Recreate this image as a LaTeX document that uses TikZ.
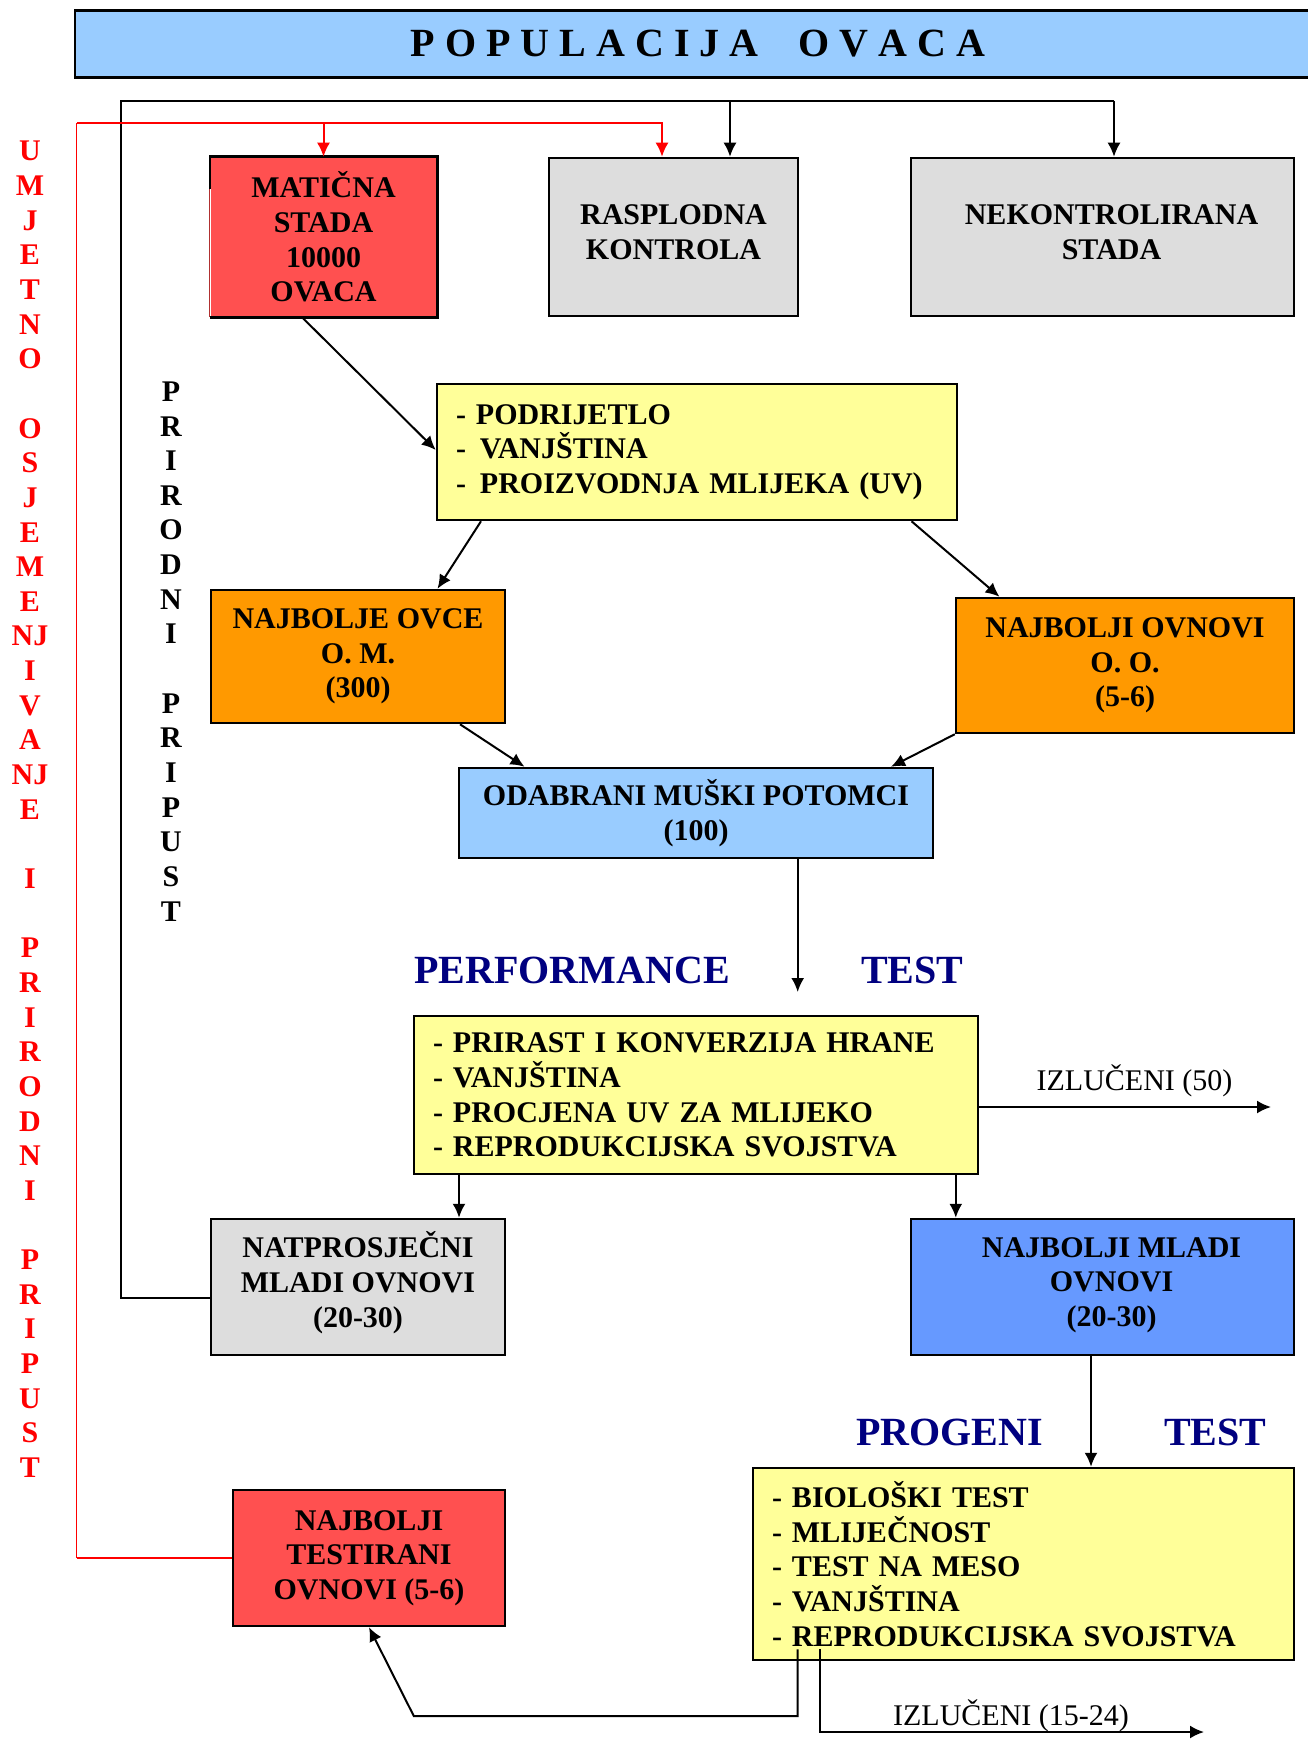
\documentclass[tikz,border=0pt]{standalone}
\usepackage{fontspec}
\setmainfont{Liberation Serif}
\usetikzlibrary{arrows.meta,calc}
\definecolor{titleblue}{HTML}{99CCFF}
\definecolor{boxred}{HTML}{FF5050}
\definecolor{boxgrey}{HTML}{DDDDDD}
\definecolor{boxyellow}{HTML}{FFFF99}
\definecolor{boxorange}{HTML}{FF9900}
\definecolor{boxblue}{HTML}{6699FF}
\definecolor{headnavy}{HTML}{000080}
\definecolor{edgered}{HTML}{B03030}
\begin{document}
\begin{tikzpicture}[x=1pt,y=-1pt,
  box/.style={draw=black, line width=2.5pt, inner sep=0pt, align=center,
    font=\bfseries\fontsize{30}{34.65}\selectfont},
  boxtext/.style={inner sep=0pt, align=center,
    font=\bfseries\fontsize{30}{34.65}\selectfont},
  listbox/.style={draw=black, line width=2.5pt, inner ysep=0pt, inner xsep=19pt,
    align=left, fill=boxyellow, font=\bfseries\fontsize{30}{34.65}\selectfont},
  conn/.style={line width=2pt, -{Latex[length=14pt,width=13pt]}},
  plain/.style={line width=2pt},
  redline/.style={red, line width=2pt},
  redarr/.style={red, line width=2pt, -{Latex[length=14pt,width=13pt]}},
  lbl/.style={inner sep=0pt, font=\fontsize{30}{34.65}\selectfont},
  head/.style={inner sep=0pt, text=headnavy, font=\bfseries\fontsize{40}{48}\selectfont},
  column/.style={inner sep=0pt, align=center, anchor=north,
    font=\bfseries\fontsize{30}{34.65}\selectfont}
]
\fill[white] (0,0) rectangle (1308,1739);
\useasboundingbox (0,0) rectangle (1308,1739);

% title
\node[box, fill=titleblue, minimum width=1246pt, minimum height=66.6pt,
  font=\bfseries\fontsize{40}{48}\selectfont] (title) at (698,44)
  {P O P U L A C I J A\hspace{40pt}O V A C A};

% top row
\node[box, draw=none, fill=boxred, minimum width=225pt, minimum height=158pt] (mat) at (323.5,237)
  {MATIČNA\\STADA\\10000\\OVACA};
\draw[edgered, line width=0.8pt] (mat.north west) -- (mat.south west);
\draw[line width=2.5pt] ($(mat.north west)+(0,32)$) -- (mat.north west) -- (mat.north east)
  -- (mat.south east) -- (mat.south west);
\node[box, fill=boxgrey, minimum width=249pt, minimum height=158pt] (ras) at (673.5,237) {};
\node[boxtext] (rasT) at (673.5,232.5) {RASPLODNA\\KONTROLA};
\node[box, fill=boxgrey, minimum width=383pt, minimum height=158pt] (nek) at (1102.5,237) {};
\node[boxtext] (nekT) at (1111.5,232.5) {NEKONTROLIRANA\\STADA};

% first criteria box
\node[listbox, text width=482pt, minimum height=136pt] (pod) at (697,452)
  {- PODRIJETLO\\- \hspace{4pt}VANJŠTINA\\- \hspace{4pt}PROIZVODNJA MLIJEKA (UV)};

\node[box, fill=boxorange, minimum width=294pt, minimum height=133pt] (ovce) at (358,656.5)
  {NAJBOLJE OVCE\\O. M.\\(300)};
\node[box, fill=boxorange, minimum width=338pt, minimum height=135pt] (ovn) at (1125,665.5)
  {NAJBOLJI OVNOVI\\O. O.\\(5-6)};

\node[box, fill=titleblue, minimum width=474pt, minimum height=90pt] (oda) at (696,813)
  {ODABRANI MUŠKI POTOMCI\\(100)};

% performance test
\node[head, anchor=base west] (perf) at (414,983) {PERFORMANCE};
\node[head, anchor=base west] (perftest) at (861,983) {TEST};

\node[listbox, text width=526pt, minimum height=158pt] (pri) at (696,1095)
  {- PRIRAST I KONVERZIJA HRANE\\- VANJŠTINA\\- PROCJENA UV ZA MLIJEKO\\- REPRODUKCIJSKA SVOJSTVA};

\node[lbl, anchor=base] (izl50lbl) at (1134.5,1090) {IZLUČENI (50)};

\node[box, fill=boxgrey, minimum width=294pt, minimum height=136pt] (nat) at (358,1287) {};
\node[boxtext] (natT) at (358,1282.6) {NATPROSJEČNI\\MLADI OVNOVI\\(20-30)};
\node[box, fill=boxblue, minimum width=383pt, minimum height=136pt] (mla) at (1102.5,1287) {};
\node[boxtext] (mlaT) at (1111.5,1285) {NAJBOLJI MLADI\\OVNOVI\\(20-30)};

% progeny test
\node[head, anchor=base west] (prog) at (856,1445) {PROGENI};
\node[head, anchor=base west] (progtest) at (1164,1445) {TEST};

\node[listbox, text width=503pt, minimum height=192pt] (pro) at (1023.5,1564)
  {- BIOLOŠKI TEST\\- MLIJEČNOST\\- TEST NA MESO\\- VANJŠTINA\\- REPRODUKCIJSKA SVOJSTVA};

\node[box, fill=boxred, minimum width=272pt, minimum height=136pt] (tes) at (369,1558)
  {NAJBOLJI\\TESTIRANI\\OVNOVI (5-6)};

\node[lbl, anchor=base] (izl1524lbl) at (1011,1725) {IZLUČENI (15-24)};

% vertical texts
\node[column, text=red] (umj) at (30,141)
  {U\\M\\J\\E\\T\\N\\O\\ \mbox{}\\ O\\S\\J\\E\\M\\E\\NJ\\I\\V\\A\\NJ\\E\\ \mbox{}\\ I\\ \mbox{}\\ P\\R\\I\\R\\O\\D\\N\\I\\ \mbox{}\\ P\\R\\I\\P\\U\\S\\T};
\node[column] (prp) at (171,381.5)
  {P\\R\\I\\R\\O\\D\\N\\I\\ \mbox{}\\ P\\R\\I\\P\\U\\S\\T};

% black natural-mating loop
\coordinate (bTL) at (120.5,100.7);
\coordinate (jR) at (730,100.7);
\coordinate (jN) at (1114,100.7);
\draw[plain] ($(nat.west)+(0,11)$) -| (bTL) -- (jN);
\draw[conn] (jN) -- (jN |- nek.north);
\draw[conn] (jR) -- (jR |- ras.north);

% red artificial insemination loop
\coordinate (rTL) at (76.8,123.3);
\coordinate (rR) at (662,123.3);
\draw[redline] (tes.west) -- (tes.west -| rTL);
\draw[red, line width=1pt] (tes.west -| rTL) -- (rTL);
\draw[redarr] (rTL) -| (ras.north -| rR);
\draw[redarr] (mat.north |- rTL) -- (mat.north);

% flow
\draw[conn] ($(mat.south)+(-21.5,0)$) -- ($(pod.west)+(0,-2)$);
\draw[conn] ($(pod.south)+(-216,0)$) -- ($(ovce.north)+(79.5,0)$);
\draw[conn] ($(pod.south)+(214.5,0)$) -- ($(ovn.north)+(-125.5,0)$);
\draw[conn] ($(ovce.south)+(102,0)$) -- ($(oda.north)+(-171.5,0)$);
\draw[conn] (ovn.south west) -- ($(oda.north)+(195,0)$);
\coordinate (perfIn) at (797.7,992);
\draw[conn] (oda.south -| perfIn) -- (perfIn);
\coordinate (izl50) at (1271,1107);
\draw[conn] (pri.east |- izl50) -- (izl50);
\draw[conn] ($(pri.south)+(-237,0)$) -- ($(nat.north)+(101,0)$);
\draw[conn] ($(pri.south)+(259.8,0)$) -- ($(mla.north)+(-146.7,0)$);
\draw[conn] ($(mla.south)+(-11.5,0)$) -- ($(pro.north)+(67.5,0)$);
\coordinate (tesBend) at (413.8,1716);
\draw[conn] ($(pro.south)+(-225.8,-12)$) |- (tesBend) -- (tes.south);
\coordinate (izlEnd) at (1204,1732);
\draw[conn] ($(pro.south)+(-203.5,-12)$) |- (izlEnd);
\end{tikzpicture}
\end{document}
